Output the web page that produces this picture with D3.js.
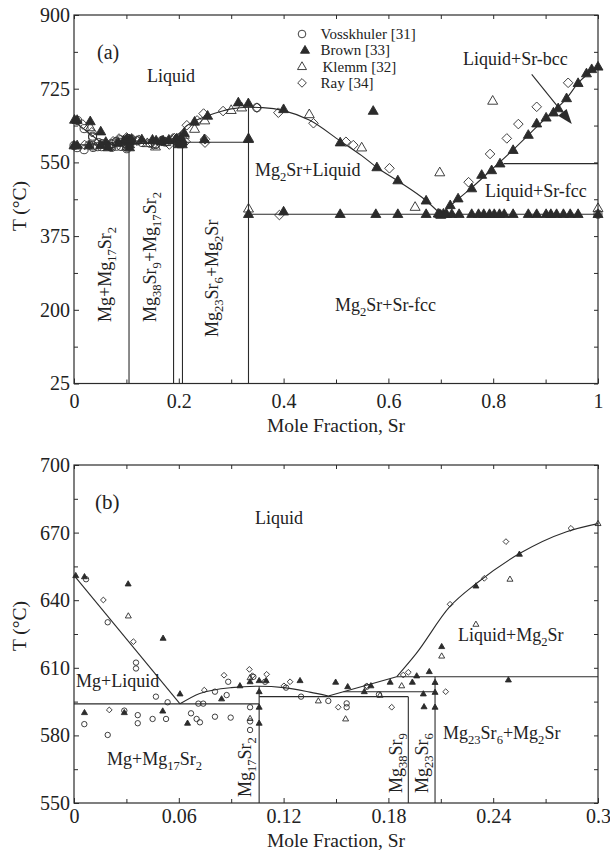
<!DOCTYPE html>
<html>
<head>
<meta charset="utf-8">
<script src="https://cdn.jsdelivr.net/npm/d3@7"></script>
<style>
  body { margin: 0; background: #fff; }
  svg text { font-family: "Liberation Serif", "Times New Roman", serif; fill: #222; }
</style>
</head>
<body>
<div id="chart"></div>
<script>
// ---------- axes ----------
var aTicksX = [0, 0.2, 0.4, 0.6, 0.8, 1];
var aMinorX = [0.1, 0.3, 0.5, 0.7, 0.9];
var aTicksY = [25, 200, 375, 550, 725, 900];
var aMinorY = [112.5, 287.5, 462.5, 637.5, 812.5];
var bTicksX = [0, 0.06, 0.12, 0.18, 0.24, 0.3];
var bMinorX = [0.03, 0.09, 0.15, 0.21, 0.27];
var bTicksY = [550, 580, 610, 640, 670, 700];
var bMinorY = [565, 595, 625, 655, 685];

// ---------- calculated phase boundaries, panel (a) ----------
var aLiqMg = [[0, 648], [0.057, 592]];
var aLiqMid = [[0.057, 592], [0.075, 598], [0.095, 601], [0.115, 601], [0.135, 599], [0.145, 597]];
var aLiqStep = [[0.145, 597], [0.185, 604]];
var aLiqMg2Sr = [[0.185, 604], [0.2, 618], [0.215, 637], [0.23, 648], [0.255, 661], [0.28, 671], [0.3, 677],
  [0.333, 681], [0.36, 680], [0.4, 673], [0.45, 650], [0.508, 601], [0.549, 566], [0.578, 538],
  [0.618, 506], [0.672, 459], [0.7, 427]];
var aLiqSr = [[0.7, 427], [0.733, 463], [0.759, 490], [0.797, 533], [0.838, 580], [0.867, 615],
  [0.901, 656], [0.94, 702], [0.962, 738], [1, 777]];
// [x1, T1, x2, T2]
var aSegs = [[0, 592, 0.105, 592], [0.105, 595, 0.19, 595], [0.185, 598, 0.333, 598],
  [0.333, 427, 1, 427], [0.82, 547, 1, 547],
  [0.105, 25, 0.105, 601], [0.19, 25, 0.19, 598], [0.207, 25, 0.207, 598], [0.333, 25, 0.333, 681]];

// ---------- calculated phase boundaries, panel (b) ----------
var bLiqMg = [[0, 651], [0.0607, 594]];
var bLiqMid = [[0.0607, 594], [0.072, 598.6], [0.09, 601.2], [0.106, 601.8], [0.12, 601.2], [0.135, 599.2], [0.1456, 597.5]];
var bLiqStep = [[0.1456, 597.5], [0.1847, 606]];
var bLiqMg2Sr = [[0.1847, 606], [0.196, 616.4], [0.215, 637], [0.2305, 647.5], [0.2553, 660.8], [0.282, 670.4], [0.3, 674]];
var bSegs = [[0, 594, 0.106, 594], [0.106, 597.2, 0.1914, 597.2], [0.1543, 599.4, 0.2067, 599.4], [0.1847, 606, 0.3, 606],
  [0.106, 550, 0.106, 601.8], [0.1914, 550, 0.1914, 597.2], [0.2067, 550, 0.2067, 606]];

// ---------- experimental points, Mg-rich side (both panels) ----------
var vossLow = [[0.0069, 649.3], [0.0193, 630.2], [0.0355, 612.3], [0.0355, 609.7], [0.0469, 597.2], [0.0536, 594.7],
  [0.0059, 585], [0.0193, 580.2], [0.0288, 591], [0.0365, 589], [0.0365, 585.4], [0.045, 587.3], [0.0527, 587.3],
  [0.067, 589.8], [0.0702, 587.3], [0.0721, 585.8], [0.0712, 594.1], [0.074, 594.1], [0.0807, 599.4], [0.0807, 588.3],
  [0.0874, 597.9], [0.0883, 603.8], [0.0897, 587.9], [0.1008, 592.5], [0.1008, 586.2], [0.1008, 582.4], [0.1027, 606],
  [0.1094, 603.8], [0.1214, 601.2], [0.13, 597.2], [0.1456, 595.3], [0.1561, 594.2], [0.1561, 592.5],
  [0.1676, 601.6], [0.1746, 598.2]];
var brownLow = [[0.001, 650.9], [0.006, 650.4], [0.031, 647.2], [0.051, 623.1], [0.0607, 598.4], [0.006, 590.1],
  [0.0288, 590.1], [0.0508, 590.8], [0.065, 585.4], [0.0845, 596.2], [0.095, 602], [0.1008, 603.8], [0.106, 604.3],
  [0.106, 599.4], [0.106, 592.5], [0.106, 585.4], [0.11, 604.3], [0.1294, 604.3], [0.1498, 603.6], [0.1567, 601.6],
  [0.1662, 599.4], [0.17, 602], [0.181, 603.6], [0.1937, 603.6], [0.1962, 606.4], [0.2034, 608.3], [0.2, 598.4],
  [0.2067, 603.5], [0.2067, 599.1], [0.2004, 592.7], [0.2067, 592.5], [0.2105, 619.4], [0.2301, 646.3],
  [0.2487, 604.6], [0.255, 660.4]];
var klemmLow = [[0.0311, 633], [0.1008, 605.6], [0.1008, 587.5], [0.1399, 595.3], [0.1555, 587.3], [0.1752, 597.8],
  [0.1876, 602], [0.2105, 615.2], [0.2301, 629.3], [0.2496, 649.3], [0.3, 674]];
var rayLow = [[0.0168, 640.1], [0.034, 621.6], [0.0202, 591.3], [0.0746, 600.1], [0.0859, 606.7], [0.1004, 609.3],
  [0.1021, 606.5], [0.1103, 607.1], [0.1202, 602], [0.1237, 603.8], [0.1513, 592.5], [0.1676, 602], [0.1819, 592.5],
  [0.1885, 606.8], [0.1914, 608], [0.2128, 599.4], [0.2153, 638.2], [0.2349, 649.7], [0.2473, 666], [0.2845, 671.9]];

// ---------- experimental points only in panel (a) ----------
var vossHigh = [[0, 590], [0.349, 680], [1, 427]];
var brownHigh = [[0, 590], [0.3136, 692], [0.3327, 690], [0.333, 605], [0.333, 427], [0.4, 433], [0.4, 676],
  [0.508, 597], [0.571, 672], [0.578, 538], [0.618, 507], [0.672, 459], [0.695, 428], [0.7, 425], [0.705, 428],
  [0.718, 448], [0.733, 464], [0.759, 488], [0.778, 520], [0.797, 531], [0.813, 547], [0.838, 579], [0.867, 615],
  [0.883, 642], [0.901, 656], [0.915, 668], [0.924, 678], [0.94, 702], [0.962, 738], [0.978, 761], [0.988, 771], [1, 777],
  [0.508, 427], [0.576, 427], [0.618, 427], [0.672, 427], [0.698, 427], [0.711, 427], [0.721, 427], [0.735, 427],
  [0.759, 427], [0.772, 427], [0.782, 427], [0.793, 427], [0.802, 427], [0.812, 427], [0.821, 427], [0.838, 427],
  [0.867, 427], [0.883, 427], [0.901, 427], [0.91, 427], [0.921, 427], [0.934, 427], [0.947, 427], [0.962, 427], [1, 427]];
var klemmHigh = [[0.32, 680], [0.333, 607], [0.333, 440], [0.449, 664], [0.549, 585], [0.651, 444], [0.698, 526],
  [0.799, 696], [1, 441]];
var rayHigh = [[0.25, 605], [0.25, 597], [0.349, 680], [0.39, 668], [0.392, 425], [0.457, 643], [0.519, 599],
  [0.533, 591], [0.602, 536], [0.753, 503], [0.794, 570], [0.826, 607], [0.848, 641], [0.883, 682], [0.943, 739]];

var legendNames = ['Vosskhuler [31]', 'Brown [33]', 'Klemm [32]', 'Ray [34]'];
var legendKinds = ['circle', 'fill', 'open', 'dia'];

var ink = '#2b2b2b';
var svg = d3.select('#chart').append('svg').attr('width', 610).attr('height', 854).style('background', '#fff');

function tri(s) { var h = s * 0.866; return 'M0,' + (-h * 0.62) + 'L' + (s / 2) + ',' + (h * 0.38) + 'L' + (-s / 2) + ',' + (h * 0.38) + 'Z'; }
function dia(r) { return 'M0,' + (-r) + 'L' + r + ',0L0,' + r + 'L' + (-r) + ',0Z'; }
function circ(r) { return 'M' + r + ',0A' + r + ',' + r + ' 0 1 1 ' + (-r) + ',0A' + r + ',' + r + ' 0 1 1 ' + r + ',0Z'; }

function shape(kind, s) {
  if (kind === 'circle') return circ(s * 0.45);
  if (kind === 'dia') return dia(s * 0.48);
  return tri(s);
}

function marks(g, x, y, data, kind, s) {
  g.append('g').selectAll('path').data(data).enter().append('path')
    .attr('transform', function(d) { return 'translate(' + x(d[0]) + ',' + y(d[1]) + ')'; })
    .attr('d', shape(kind, s))
    .attr('fill', kind === 'fill' ? ink : 'none')
    .attr('stroke', ink).attr('stroke-width', 0.9);
}

function label(g, px, py, str, opt) {
  opt = opt || {};
  var fs = opt.size || 18;
  var t = g.append('text').attr('font-size', fs)
    .attr('transform', 'translate(' + px + ',' + py + ')' + (opt.rot ? ' rotate(-90)' : ''))
    .attr('text-anchor', opt.anchor || 'start');
  var low = false;
  str.split(/(_\{[^}]*\})/).forEach(function(p) {
    if (!p) return;
    var sub = p.charAt(0) === '_';
    var ts = t.append('tspan').text(sub ? p.slice(2, -1) : p);
    if (sub) { ts.attr('font-size', fs * 0.7); if (!low) ts.attr('dy', fs * 0.28); low = true; }
    else if (low) { ts.attr('dy', -fs * 0.28); low = false; }
  });
  return t;
}

function fmt(d) { return String(+d.toFixed(2)); }

function frame(g, x, y, o) {
  var x0 = x.range()[0], x1 = x.range()[1], y0 = y.range()[1], y1 = y.range()[0];
  var ax = [
    [d3.axisBottom(x).tickValues(o.tx).tickSize(-5).tickPadding(o.pad).tickFormat(fmt), y1, true],
    [d3.axisBottom(x).tickValues(o.mx).tickSize(-4).tickFormat(''), y1, false],
    [d3.axisTop(x).tickValues(o.tx.concat(o.mx)).tickSize(-4).tickFormat(''), y0, false]
  ];
  ax.forEach(function(a) {
    var s = g.append('g').attr('transform', 'translate(0,' + a[1] + ')').call(a[0]);
    s.select('.domain').remove();
    s.selectAll('line').attr('stroke', ink);
    s.selectAll('text').attr('font-size', 20).attr('font-family', null).attr('fill', null);
  });
  var ay = [
    [d3.axisLeft(y).tickValues(o.ty).tickSize(-5).tickPadding(4), x0],
    [d3.axisLeft(y).tickValues(o.my).tickSize(-4).tickFormat(''), x0],
    [d3.axisRight(y).tickValues(o.ty.concat(o.my)).tickSize(-4).tickFormat(''), x1]
  ];
  ay.forEach(function(a) {
    var s = g.append('g').attr('transform', 'translate(' + a[1] + ',0)').call(a[0]);
    s.select('.domain').remove();
    s.selectAll('line').attr('stroke', ink);
    s.selectAll('text').attr('font-size', 20).attr('font-family', null).attr('fill', null);
  });
  g.append('rect').attr('x', x0).attr('y', y0).attr('width', x1 - x0).attr('height', y1 - y0)
    .attr('fill', 'none').attr('stroke', ink).attr('stroke-width', 1.2);
  label(g, 336, o.titleY, 'Mole Fraction, Sr', { size: 19.5, anchor: 'middle' });
  label(g, 26, o.tY, 'T (°C)', { size: 19.5, anchor: 'middle', rot: true });
}

function boundaries(g, x, y, curves, segs) {
  var smooth = d3.line().x(function(d) { return x(d[0]); }).y(function(d) { return y(d[1]); }).curve(d3.curveMonotoneX);
  g.append('g').selectAll('path').data(curves).enter().append('path')
    .attr('d', smooth).attr('fill', 'none').attr('stroke', ink).attr('stroke-width', 1.1);
  g.append('g').selectAll('line').data(segs).enter().append('line')
    .attr('x1', function(d) { return x(d[0]); }).attr('y1', function(d) { return y(d[1]); })
    .attr('x2', function(d) { return x(d[2]); }).attr('y2', function(d) { return y(d[3]); })
    .attr('stroke', ink).attr('stroke-width', 1.1);
}

// ================= panel (a) =================
var xA = d3.scaleLinear().domain([0, 1]).range([74, 598]);
var yA = d3.scaleLinear().domain([25, 900]).range([383.5, 15]);
var gA = svg.append('g');

boundaries(gA, xA, yA, [aLiqMg, aLiqMid, aLiqStep, aLiqMg2Sr, aLiqSr], aSegs);
marks(gA, xA, yA, vossLow.concat(vossHigh), 'circle', 9);
marks(gA, xA, yA, klemmLow.concat(klemmHigh), 'open', 10);
marks(gA, xA, yA, rayLow.concat(rayHigh), 'dia', 10);
marks(gA, xA, yA, brownLow.concat(brownHigh), 'fill', 10);

// arrow pointing into the Liquid+Sr-bcc field
var aFrom = [xA(0.8735), yA(759)], aTo = [xA(0.95), yA(641)];
var ang = Math.atan2(aTo[1] - aFrom[1], aTo[0] - aFrom[0]);
var hb = [aTo[0] - 15 * Math.cos(ang), aTo[1] - 15 * Math.sin(ang)];
gA.append('line').attr('x1', aFrom[0]).attr('y1', aFrom[1]).attr('x2', hb[0]).attr('y2', hb[1])
  .attr('stroke', ink).attr('stroke-width', 1.1);
gA.append('path').attr('fill', ink)
  .attr('d', 'M' + aTo[0] + ',' + aTo[1] +
    'L' + (hb[0] + 5.5 * Math.sin(ang)) + ',' + (hb[1] - 5.5 * Math.cos(ang)) +
    'L' + (hb[0] - 5.5 * Math.sin(ang)) + ',' + (hb[1] + 5.5 * Math.cos(ang)) + 'Z');

frame(gA, xA, yA, { tx: aTicksX, mx: aMinorX, ty: aTicksY, my: aMinorY, pad: 10, titleY: 432, tY: 206 });

// legend
legendNames.forEach(function(n, i) {
  var ly = 34 + i * 16.3;
  gA.append('path').attr('transform', 'translate(' + (i === 1 ? 305 : 302) + ',' + ly + ')')
    .attr('d', shape(legendKinds[i], legendKinds[i] === 'circle' ? 8.5 : 9))
    .attr('fill', legendKinds[i] === 'fill' ? ink : 'none').attr('stroke', ink).attr('stroke-width', 0.9);
  label(gA, i === 2 ? 322.5 : 320.5, ly + 5, n, { size: 15 });
});

label(gA, 97, 59, '(a)', { size: 20 });
label(gA, 147, 82, 'Liquid');
label(gA, 255, 176, 'Mg_{2}Sr+Liquid');
label(gA, 463, 65, 'Liquid+Sr-bcc');
label(gA, 485, 197, 'Liquid+Sr-fcc');
label(gA, 335, 311, 'Mg_{2}Sr+Sr-fcc');
label(gA, 111, 322, 'Mg+Mg_{17}Sr_{2}', { rot: true });
label(gA, 156, 322, 'Mg_{38}Sr_{9}+Mg_{17}Sr_{2}', { rot: true });
label(gA, 218, 337, 'Mg_{23}Sr_{6}+Mg_{2}Sr', { rot: true });

// ================= panel (b) =================
var xB = d3.scaleLinear().domain([0, 0.3]).range([74, 598]);
var yB = d3.scaleLinear().domain([550, 700]).range([803, 465]);
var gB = svg.append('g');
var clip = svg.append('clipPath').attr('id', 'clipB').append('rect')
  .attr('x', 74).attr('y', 465).attr('width', 524).attr('height', 338);
var gBd = gB.append('g').attr('clip-path', 'url(#clipB)');

boundaries(gBd, xB, yB, [bLiqMg, bLiqMid, bLiqStep, bLiqMg2Sr], bSegs);
marks(gB, xB, yB, vossLow, 'circle', 6);
marks(gB, xB, yB, klemmLow, 'open', 6);
marks(gB, xB, yB, rayLow, 'dia', 6);
marks(gB, xB, yB, brownLow, 'fill', 6);

frame(gB, xB, yB, { tx: bTicksX, mx: bMinorX, ty: bTicksY, my: bMinorY, pad: 6, titleY: 847, tY: 626 });

label(gB, 95, 509, '(b)', { size: 21 });
label(gB, 255, 524, 'Liquid');
label(gB, 76, 687, 'Mg+Liquid');
label(gB, 107, 765, 'Mg+Mg_{17}Sr_{2}');
label(gB, 458, 641, 'Liquid+Mg_{2}Sr');
label(gB, 443, 739, 'Mg_{23}Sr_{6}+Mg_{2}Sr');
label(gB, 251, 797, 'Mg_{17}Sr_{2}', { rot: true });
label(gB, 402, 793, 'Mg_{38}Sr_{9}', { rot: true });
label(gB, 428, 793, 'Mg_{23}Sr_{6}', { rot: true });
</script>
</body>
</html>
